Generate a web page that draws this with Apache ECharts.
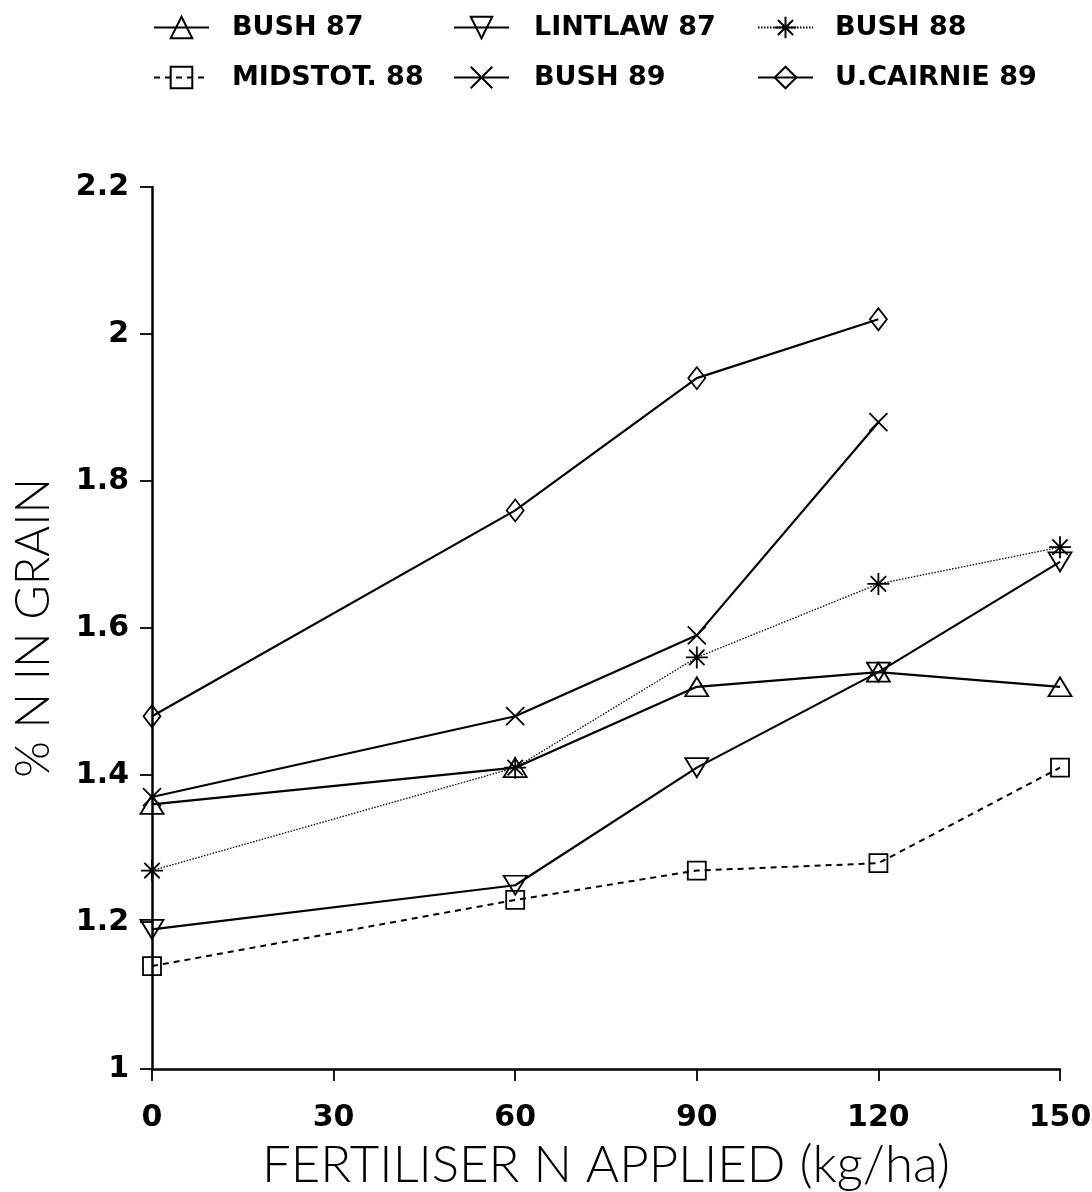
<!DOCTYPE html>
<html><head><meta charset="utf-8">
<script src="https://cdn.jsdelivr.net/npm/echarts@6/dist/echarts.min.js"></script>
<style>html,body{margin:0;padding:0;background:#fff}#c{width:1092px;height:1192px}</style>
</head><body><div id="c"></div>
<script>
const xValues = [0, 60, 90, 120, 150];
const seriesNames = ['BUSH 87', 'LINTLAW 87', 'BUSH 88', 'MIDSTOT. 88', 'BUSH 89', 'U.CAIRNIE 89'];
const bush87 = [1.36, 1.41, 1.52, 1.54, 1.52];
const lintlaw87 = [1.19, 1.25, 1.41, 1.54, 1.69];
const bush88 = [1.27, 1.41, 1.56, 1.66, 1.71];
const midstot88 = [1.14, 1.23, 1.27, 1.28, 1.41];
const bush89 = [1.37, 1.48, 1.59, 1.88];
const ucairnie89 = [1.48, 1.76, 1.94, 2.02];
const yTicks = {min: 1, max: 2.2, interval: 0.2};
const xTicks = {min: 0, max: 150, interval: 30};

const pts = (vals) => vals.map((v, i) => [xValues[i], v]);
const XPATH = 'path://M0,0L20,20M20,0L0,20';
const STAR = 'path://M10,0L10,20M0,10L20,10M3,3L17,17M17,3L3,17';
const hollow = {color: 'rgba(255,255,255,0)', borderColor: '#000', borderWidth: 1.8};

function mk(name, data, symbol, size, lineType, lineWidth, rotate) {
  return {
    name, type: 'line', data: pts(data), symbol, symbolSize: size,
    symbolRotate: rotate || 0, showAllSymbol: true, z: 3,
    lineStyle: {color: '#000', width: lineWidth, type: lineType},
    itemStyle: Object.assign({}, hollow),
    emphasis: {disabled: true}, animation: false
  };
}

const series = [
  mk('BUSH 87', bush87, 'triangle', [23, 19], 'solid', 2.2),
  mk('LINTLAW 87', lintlaw87, 'triangle', [23, 19], 'solid', 2.2, 180),
  mk('BUSH 88', bush88, STAR, 22, [1.5, 1.5], 1.3),
  mk('MIDSTOT. 88', midstot88, 'rect', 18, [6, 5], 2),
  mk('BUSH 89', bush89, XPATH, 18, 'solid', 2.2),
  mk('U.CAIRNIE 89', ucairnie89, 'diamond', [17, 22], 'solid', 2.2)
];

const legPos = [
  {left: 148, top: 9, pad: 18}, {left: 448, top: 9, pad: 20}, {left: 752, top: 9, pad: 17},
  {left: 148, top: 59, pad: 18}, {left: 448, top: 59, pad: 20}, {left: 752, top: 59, pad: 17}
];
const legends = seriesNames.map((n, i) => ({
  data: [n], left: legPos[i].left, top: legPos[i].top,
  itemWidth: 55, itemHeight: 27, selectedMode: false,
  textStyle: {fontFamily: 'DejaVu Sans', fontWeight: 'bold', fontSize: 27, color: '#000', padding: [0, 0, 0, legPos[i].pad]}
}));

const chart = echarts.init(document.getElementById('c'), null, {renderer: 'canvas'});
chart.setOption({
  backgroundColor: '#fff',
  animation: false,
  legend: legends,
  grid: {left: 152, right: 32, top: 187, bottom: 123, containLabel: false, outerBoundsMode: 'none'},
  xAxis: {
    type: 'value', min: xTicks.min, max: xTicks.max, interval: xTicks.interval,
    name: 'FERTILISER N APPLIED (kg/ha)', nameLocation: 'middle', nameGap: 71,
    nameTextStyle: {fontFamily: 'Lato', fontWeight: 300, fontSize: 51, color: '#000'},
    axisLine: {onZero: false, lineStyle: {color: '#000', width: 2.5}},
    axisTick: {inside: false, length: 12, lineStyle: {color: '#000', width: 1.8}},
    axisLabel: {margin: 34, fontFamily: 'DejaVu Sans', fontWeight: 'bold', fontSize: 30, color: '#000'},
    splitLine: {show: false}
  },
  yAxis: {
    type: 'value', min: yTicks.min, max: yTicks.max, interval: yTicks.interval,
    name: '% N IN GRAIN', nameLocation: 'middle', nameGap: 95, nameRotate: 90,
    nameTextStyle: {fontFamily: 'Lato', fontWeight: 300, fontSize: 47, color: '#000'},
    axisLine: {onZero: false, lineStyle: {color: '#000', width: 2.5}},
    axisTick: {inside: false, length: 12, lineStyle: {color: '#000', width: 1.8}},
    axisLabel: {margin: 23, fontFamily: 'DejaVu Sans', fontWeight: 'bold', fontSize: 30, color: '#000'},
    splitLine: {show: false}
  },
  series
});
</script></body></html>
